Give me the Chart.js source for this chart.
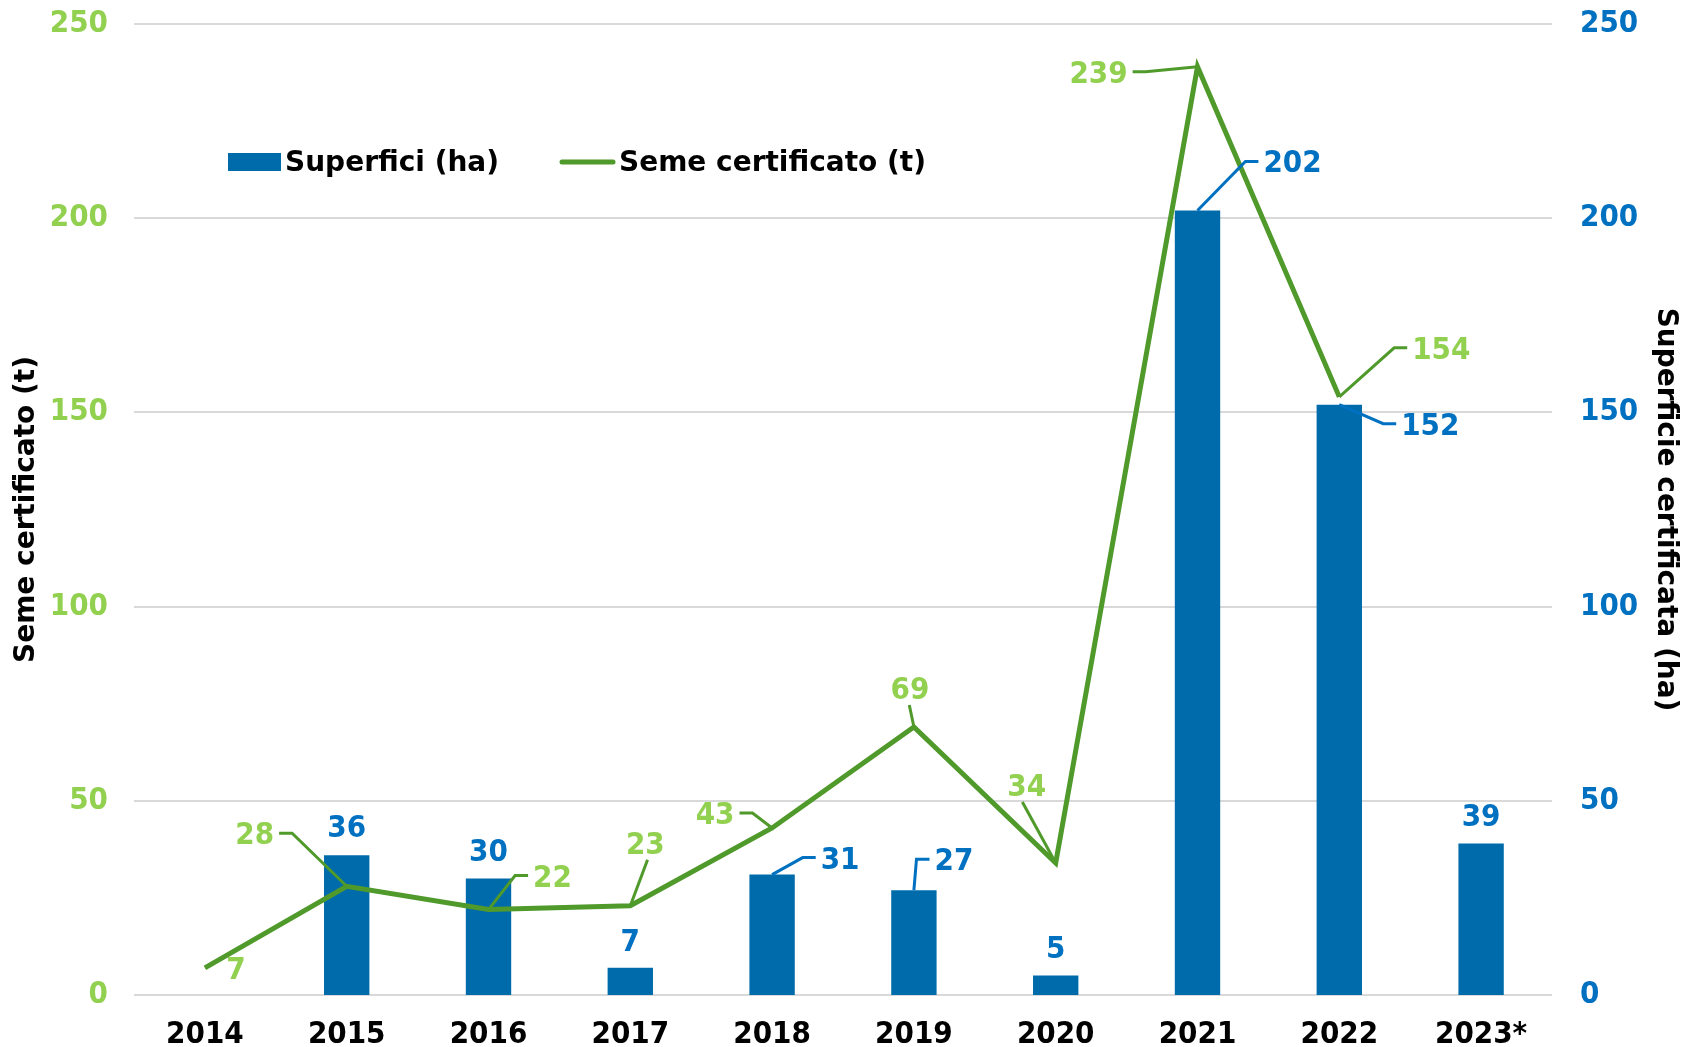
<!DOCTYPE html>
<html>
<head>
<meta charset="utf-8">
<script src="https://cdn.jsdelivr.net/npm/chart.js@4.4.1/dist/chart.umd.min.js"></script>
<style>
    html, body { margin: 0; padding: 0; background: #fff; }
    #wrap { width: 1682px; height: 1047px; }
</style>
</head>
<body>
<div id="wrap"><canvas id="grafico"></canvas></div>
<script>
// dati
const anni = ["2014", "2015", "2016", "2017", "2018", "2019", "2020", "2021", "2022", "2023*"];
const superfici = [null, 36, 30, 7, 31, 27, 5, 202, 152, 39];
const seme = [7, 28, 22, 23, 43, 69, 34, 239, 154, null];
const tickValori = [0, 50, 100, 150, 200, 250];

// posizione etichette rispetto al punto (px)
const semeEtichette = [[31, 0], [-92, -53], [64, -34], [15, -63], [-57, -15], [-4, -39], [-29, -78], [-99, 5], [102, -49], null];
const superficiEtichette = [null, [0, -29], [0, -29], [0, -28], [68, -17], [40, -31], [0, -29], [95, -49], [91, 19], [0, -29]];

const BLU = "#006BAB";
const BLU_TESTO = "#0070C0";
const VERDE = "#4F9A2B";
const VERDE_TESTO = "#92D050";
const FONT = "'DejaVu Sans', Verdana, sans-serif";
const FONT_NUM = "'DejaVu Sans Condensed', 'DejaVu Sans', sans-serif";

const ctx = document.getElementById("grafico").getContext("2d");

const etichettePlugin = {
    id: "etichette",
    afterDatasetsDraw(chart) {
        const c = chart.ctx;
        const gruppi = [
            { idx: 1, valori: seme, pos: semeEtichette, testo: VERDE_TESTO, linea: VERDE },
            { idx: 0, valori: superfici, pos: superficiEtichette, testo: BLU_TESTO, linea: BLU_TESTO },
        ];
        c.save();
        c.font = "bold 31px " + FONT_NUM;
        c.textAlign = "center";
        c.textBaseline = "middle";
        gruppi.forEach((g) => {
            const meta = chart.getDatasetMeta(g.idx);
            g.valori.forEach((v, i) => {
                if (v === null || !g.pos[i]) return;
                const el = meta.data[i];
                const px = el.x;
                const py = el.y;
                const [dx, dy] = g.pos[i];
                const lx = px + dx;
                const ly = py + dy;
                const testo = String(v);
                const w = c.measureText(testo).width;
                if (Math.hypot(dx, dy) > 36) {
                    c.strokeStyle = g.linea;
                    c.lineWidth = 3;
                    c.beginPath();
                    if (Math.abs(dx) > w / 2 + 14) {
                        const s = dx > 0 ? -1 : 1;
                        const sx = lx + s * (w / 2 + 5);
                        c.moveTo(sx, ly);
                        c.lineTo(sx + s * 13, ly);
                    } else {
                        const s = dy > 0 ? -1 : 1;
                        c.moveTo(lx + dx * 0.15, ly + s * 17);
                    }
                    c.lineTo(px, py);
                    c.stroke();
                }
                c.fillStyle = g.testo;
                c.fillText(testo, lx, ly + 3);
            });
        });
        c.restore();
    },
};

const legendaPlugin = {
    id: "legenda",
    afterDraw(chart) {
        const c = chart.ctx;
        c.save();
        c.font = "bold 28px " + FONT;
        c.textBaseline = "middle";
        c.fillStyle = BLU;
        c.fillRect(228, 153, 53, 18);
        c.fillStyle = "#000";
        c.fillText(chart.data.datasets[0].label, 285, 164);
        c.strokeStyle = VERDE;
        c.lineWidth = 5;
        c.lineCap = "round";
        c.beginPath();
        c.moveTo(562, 162);
        c.lineTo(613, 162);
        c.stroke();
        c.fillText(chart.data.datasets[1].label, 619, 164);
        c.restore();
    },
};

new Chart(ctx, {
    data: {
        labels: anni,
        datasets: [
            {
                type: "bar",
                label: "Superfici (ha)",
                data: superfici,
                backgroundColor: BLU,
                yAxisID: "y1",
                barPercentage: 0.32,
                categoryPercentage: 1,
                order: 1,
            },
            {
                type: "line",
                label: "Seme certificato (t)",
                data: seme,
                borderColor: VERDE,
                backgroundColor: VERDE,
                borderWidth: 5,
                pointRadius: 0,
                tension: 0,
                yAxisID: "y",
                order: 0,
            },
        ],
    },
    options: {
        responsive: true,
        maintainAspectRatio: false,
        animation: false,
        layout: { padding: { top: 24, left: 0, right: 0, bottom: 0 } },
        plugins: {
            legend: { display: false },
            tooltip: { enabled: false },
        },
        scales: {
            x: {
                offset: true,
                grid: { display: false, drawTicks: false },
                border: { display: false },
                ticks: {
                    color: "#000",
                    font: { family: FONT_NUM, size: 31, weight: "bold" },
                    padding: 21,
                    maxRotation: 0,
                },
                afterFit: (scale) => { scale.height = 52; },
            },
            y: {
                position: "left",
                min: 0,
                max: 250,
                afterBuildTicks: (scale) => { scale.ticks = tickValori.map((v) => ({ value: v })); },
                grid: { color: "#D9D9D9", lineWidth: 2, drawTicks: false },
                border: { display: false },
                ticks: {
                    color: VERDE_TESTO,
                    font: { family: FONT_NUM, size: 31, weight: "bold" },
                    padding: 26,
                },
                title: {
                    display: true,
                    text: "Seme certificato (t)",
                    color: "#000",
                    font: { family: FONT, size: 28, weight: "bold" },
                    padding: { top: 10, bottom: 0 },
                },
                afterFit: (scale) => {
                    scale.width = 134;
                    scale.paddingTop = 0;
                    scale.paddingBottom = 0;
                },
            },
            y1: {
                position: "right",
                min: 0,
                max: 250,
                afterBuildTicks: (scale) => { scale.ticks = tickValori.map((v) => ({ value: v })); },
                grid: { display: false, drawTicks: false },
                border: { display: false },
                ticks: {
                    color: BLU_TESTO,
                    font: { family: FONT_NUM, size: 31, weight: "bold" },
                    padding: 28,
                },
                title: {
                    display: true,
                    text: "Superficie certificata (ha)",
                    color: "#000",
                    font: { family: FONT, size: 28, weight: "bold" },
                    padding: { top: 0, bottom: 0 },
                },
                afterFit: (scale) => {
                    scale.width = 130;
                    scale.paddingTop = 0;
                    scale.paddingBottom = 0;
                },
            },
        },
    },
    plugins: [etichettePlugin, legendaPlugin],
});
</script>
</body>
</html>
